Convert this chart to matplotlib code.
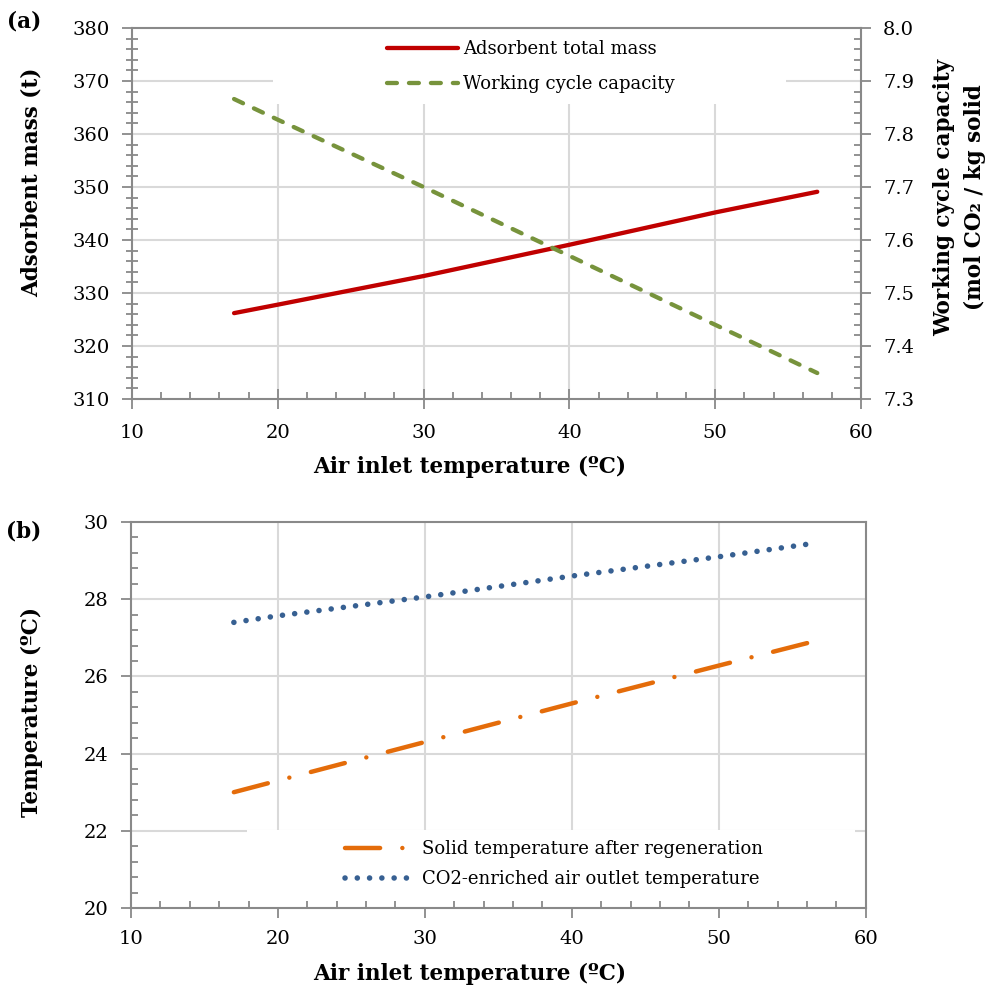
import matplotlib
matplotlib.use("Agg")
import matplotlib.pyplot as plt
from matplotlib.patches import Rectangle
from matplotlib.ticker import MultipleLocator, FormatStrFormatter

plt.rcParams['font.family'] = ['DejaVu Serif']
plt.rcParams['font.size'] = 14

# (a) adsorbent mass and working cycle capacity vs air inlet temperature
t_air_a = [17, 20, 30, 40, 50, 57]
mass_total = [326.2, 327.8, 333.2, 339.1, 345.2, 349.1]
cycle_capacity = [7.866, 7.827, 7.700, 7.570, 7.440, 7.349]

# (b) outlet temperatures vs air inlet temperature
t_air_b = [17, 20, 30, 40, 50, 56.5]
t_solid = [23.0, 23.30, 24.30, 25.30, 26.28, 26.91]
t_air_out = [27.40, 27.57, 28.06, 28.60, 29.10, 29.45]

GRID = '#d9d9d9'
SPINE = '#898989'
RED = '#c00000'
GREEN = '#77933c'
ORANGE = '#e46c0a'
BLUE = '#376092'
LABEL_FS = 15.5


def style_axis(ax, xstep, ystep, xminor, yminor):
    ax.xaxis.set_major_locator(MultipleLocator(xstep))
    ax.yaxis.set_major_locator(MultipleLocator(ystep))
    ax.xaxis.set_minor_locator(MultipleLocator(xminor))
    ax.yaxis.set_minor_locator(MultipleLocator(yminor))
    ax.set_axisbelow('line')
    for s in ax.spines.values():
        s.set_color(SPINE)
        s.set_linewidth(1.5)
    ax.tick_params(which='major', direction='out', length=7, width=1.3, color=SPINE)
    ax.tick_params(which='minor', direction='in', length=5, width=1.3, color=SPINE)
    # gridlines kept under the legend patch, ticks stay above it
    x0, x1 = ax.get_xlim()
    y0, y1 = ax.get_ylim()
    for v in ax.get_xticks():
        if x0 < v < x1:
            ax.axvline(v, color=GRID, lw=1.5, zorder=0.3)
    for v in ax.get_yticks():
        if y0 < v < y1:
            ax.axhline(v, color=GRID, lw=1.5, zorder=0.3)


fig = plt.figure(figsize=(9.94, 9.93), dpi=100)

# ---- panel (a)
ax1 = fig.add_axes([0.1328, 0.5982, 0.7334, 0.3736])
ax1.set_xlim(10, 60)
ax1.set_ylim(310, 380)
style_axis(ax1, 10, 10, 2, 2)
ax1.tick_params(axis='x', which='major', direction='inout', length=14, pad=11)
ax1.tick_params(axis='y', which='major', pad=9)
ax1.tick_params(axis='y', which='minor', direction='inout', length=9)

ax1.add_patch(Rectangle((0.193, 0.795), 0.704, 0.205, transform=ax1.transAxes,
                        facecolor='white', edgecolor='none', zorder=0.6))

l1, = ax1.plot(t_air_a, mass_total, color=RED, lw=3.1, solid_capstyle='round',
               label='Adsorbent total mass', zorder=3)

ax2 = ax1.twinx()
ax2.set_ylim(7.3, 8.0)
ax2.yaxis.set_major_locator(MultipleLocator(0.1))
ax2.yaxis.set_minor_locator(MultipleLocator(0.02))
ax2.yaxis.set_major_formatter(FormatStrFormatter('%.1f'))
for s in ax2.spines.values():
    s.set_visible(False)
ax2.tick_params(which='major', direction='out', length=7, width=1.3, color=SPINE, pad=9)
ax2.tick_params(which='minor', direction='in', length=5, width=1.3, color=SPINE)
l2, = ax2.plot(t_air_a, cycle_capacity, color=GREEN, lw=3.1,
               linestyle=(0, (2.3, 2.8)), dash_capstyle='round',
               label='Working cycle capacity', zorder=3)

ax2.legend(handles=[l1, l2], loc='center left', bbox_to_anchor=(0.35, 0.896),
           frameon=False, borderpad=0, borderaxespad=0, handlelength=3.9,
           handletextpad=0.3, labelspacing=0.95, fontsize=13)

fig.text(0.032, 0.8167, 'Adsorbent mass (t)', rotation=90, ha='center', va='center',
         fontweight='bold', fontsize=LABEL_FS)
fig.text(0.965, 0.8016, 'Working cycle capacity\n(mol CO\u2082 / kg solid', rotation=90,
         ha='center', va='center', fontweight='bold', fontsize=LABEL_FS, linespacing=1.5)
fig.text(0.472, 0.530, 'Air inlet temperature (ºC)', ha='center', va='center',
         fontweight='bold', fontsize=LABEL_FS)
fig.text(0.024, 0.978, '(a)', ha='center', va='center', fontweight='bold', fontsize=LABEL_FS)

# ---- panel (b)
ax3 = fig.add_axes([0.1318, 0.0856, 0.7391, 0.3887])
ax3.set_xlim(10, 60)
ax3.set_ylim(20, 30)
style_axis(ax3, 10, 2, 2, 0.4)
ax3.tick_params(axis='x', which='major', pad=9)
ax3.tick_params(axis='y', which='major', pad=9)

ax3.add_patch(Rectangle((0.158, 0.0), 0.827, 0.202, transform=ax3.transAxes,
                        facecolor='white', edgecolor='none', zorder=0.6))

ax3.plot(t_air_b, t_solid, color=ORANGE, lw=3.2,
         linestyle=(0, (7.9, 5.0, 0.01, 5.0)), dash_capstyle='round',
         label='Solid temperature after regeneration', zorder=3)
ax3.plot(t_air_b, t_air_out, color=BLUE, lw=4.0,
         linestyle=(0, (0.01, 2.2)), dash_capstyle='round',
         label='CO2-enriched air outlet temperature', zorder=3)

ax3.legend(loc='center left', bbox_to_anchor=(0.291, 0.114),
           frameon=False, borderpad=0, borderaxespad=0, handlelength=3.6,
           handletextpad=0.65, labelspacing=0.65, fontsize=13)

fig.text(0.032, 0.283, 'Temperature (ºC)', rotation=90, ha='center', va='center',
         fontweight='bold', fontsize=LABEL_FS)
fig.text(0.472, 0.019, 'Air inlet temperature (ºC)', ha='center', va='center',
         fontweight='bold', fontsize=LABEL_FS)
fig.text(0.024, 0.465, '(b)', ha='center', va='center', fontweight='bold', fontsize=LABEL_FS)

fig.savefig('out.png', dpi=100)
